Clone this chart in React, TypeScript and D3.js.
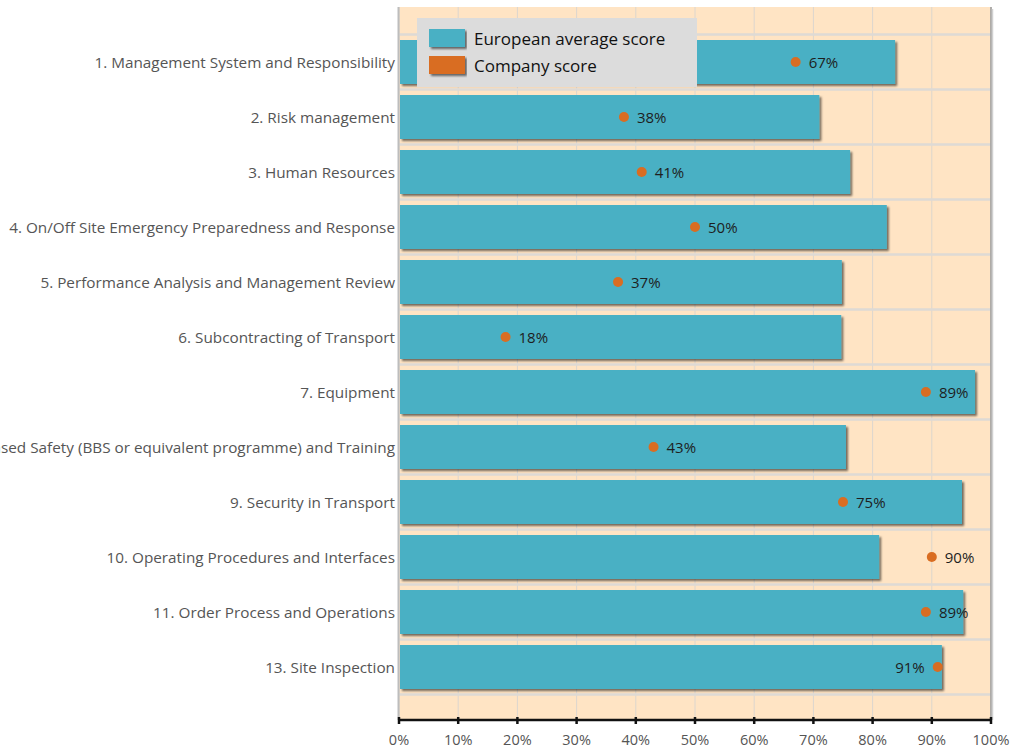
import * as d3 from 'd3';

const categories = [
  '1. Management System and Responsibility',
  '2. Risk management',
  '3. Human Resources',
  '4. On/Off Site Emergency Preparedness and Response',
  '5. Performance Analysis and Management Review',
  '6. Subcontracting of Transport',
  '7. Equipment',
  '8. Behaviour Based Safety (BBS or equivalent programme) and Training',
  '9. Security in Transport',
  '10. Operating Procedures and Interfaces',
  '11. Order Process and Operations',
  '13. Site Inspection',
];

const europeanAverage = [83.8, 71, 76.2, 82.4, 74.8, 74.7, 97.3, 75.5, 95.1, 81.1, 95.3, 91.7];
const companyScore = [67, 38, 41, 50, 37, 18, 89, 43, 75, 90, 89, 91];
const xTicks = [0, 10, 20, 30, 40, 50, 60, 70, 80, 90, 100];
const legendLabels = ['European average score', 'Company score'];

const W = 1023;
const H = 748;
const plot = { left: 399, right: 991, top: 7, bottom: 720 };

const barColor = '#4AB0C4';
const dotColor = '#D96D22';
const font = '"Open Sans", "Noto Sans", sans-serif';

const App = () => {
  const x = d3.scaleLinear().domain([0, 100]).range([plot.left, plot.right]);
  const y = d3
    .scaleBand<string>()
    .domain(categories)
    .range([plot.top + 27.5, plot.bottom - 25.5])
    .paddingInner(0.2)
    .paddingOuter(0.1);
  const step = y.step();
  const rows = categories.map((c, i) => ({ c, avg: europeanAverage[i], co: companyScore[i] }));
  const last = categories[categories.length - 1];

  return (
    <svg width={W} height={H} style={{ position: 'absolute', left: 0, top: 0 }} fontFamily={font}>
      <defs>
        <filter id="shadow" x="-5%" y="-20%" width="110%" height="150%">
          <feDropShadow dx="2" dy="2" stdDeviation="1" floodColor="#000" floodOpacity="0.55" />
        </filter>
      </defs>

      {/* plot background */}
      <rect
        x={plot.left}
        y={plot.top}
        width={plot.right - plot.left}
        height={plot.bottom - plot.top}
        fill="#FFE4C4"
      />

      {/* vertical grid */}
      {xTicks.map((t) => (
        <line key={t} x1={x(t)} x2={x(t)} y1={plot.top} y2={plot.bottom} stroke="#DCD6CE" strokeWidth={1} />
      ))}

      {/* horizontal grid at band boundaries */}
      {categories.map((c) => (
        <line
          key={c}
          x1={plot.left}
          x2={plot.right}
          y1={(y(c) as number) - step * 0.1}
          y2={(y(c) as number) - step * 0.1}
          stroke="#DEDAD5"
          strokeWidth={2.5}
        />
      ))}
      <line
        x1={plot.left}
        x2={plot.right}
        y1={(y(last) as number) + y.bandwidth() + step * 0.1}
        y2={(y(last) as number) + y.bandwidth() + step * 0.1}
        stroke="#DEDAD5"
        strokeWidth={2.5}
      />

      {/* left and right borders */}
      <line x1={plot.left - 0.5} x2={plot.left - 0.5} y1={plot.top} y2={plot.bottom} stroke="#BDBDBD" strokeWidth={2} />
      <line x1={plot.right} x2={plot.right} y1={plot.top} y2={plot.bottom} stroke="#9A9A9A" strokeWidth={1.5} />
      <line x1={plot.right + 1.5} x2={plot.right + 1.5} y1={plot.top + 2} y2={plot.bottom} stroke="#D0D0D0" strokeWidth={1.5} />

      {/* bars */}
      {rows.map((d) => (
        <rect
          key={d.c}
          x={x(0) + 1}
          y={y(d.c)}
          width={x(d.avg) - x(0) - 1}
          height={y.bandwidth()}
          fill={barColor}
          filter="url(#shadow)"
        />
      ))}

      {/* company dots and labels */}
      {rows.map((d) => {
        const cy = (y(d.c) as number) + y.bandwidth() / 2;
        const left = d.co > 90;
        return (
          <g key={d.c}>
            <circle cx={x(d.co)} cy={cy} r={5} fill={dotColor} />
            <text
              x={left ? x(d.co) - 13 : x(d.co) + 13}
              y={cy + 1}
              dy="0.35em"
              textAnchor={left ? 'end' : 'start'}
              fontSize={15}
              fill="#1E1E1E"
            >
              {`${d.co}%`}
            </text>
          </g>
        );
      })}

      {/* category labels */}
      {rows.map((d) => (
        <text
          key={d.c}
          x={plot.left - 4}
          y={(y(d.c) as number) + y.bandwidth() / 2 + 1}
          dy="0.35em"
          textAnchor="end"
          fontSize={15.3}
          fill="#555"
        >
          {d.c}
        </text>
      ))}

      {/* x axis */}
      <line x1={plot.left - 1} x2={plot.right + 1} y1={plot.bottom} y2={plot.bottom} stroke="#111" strokeWidth={2.5} />
      {xTicks.map((t) => (
        <g key={t}>
          <line x1={x(t)} x2={x(t)} y1={plot.bottom - 3} y2={plot.bottom + 4} stroke="#111" strokeWidth={2.5} />
          <text x={x(t)} y={plot.bottom + 25} textAnchor="middle" fontSize={14.5} fill="#555">
            {`${t}%`}
          </text>
        </g>
      ))}

      {/* legend */}
      <g>
        <rect x={417} y={18} width={280} height={69} fill="#DCDCDC" />
        {legendLabels.map((l, i) => (
          <g key={l}>
            <rect
              x={429}
              y={29 + i * 27}
              width={36}
              height={18}
              fill={i === 0 ? barColor : dotColor}
              filter="url(#shadow)"
            />
            <text x={474} y={39 + i * 27} dy="0.35em" fontSize={17} fill="#111">
              {l}
            </text>
          </g>
        ))}
      </g>
    </svg>
  );
};

export default App;
